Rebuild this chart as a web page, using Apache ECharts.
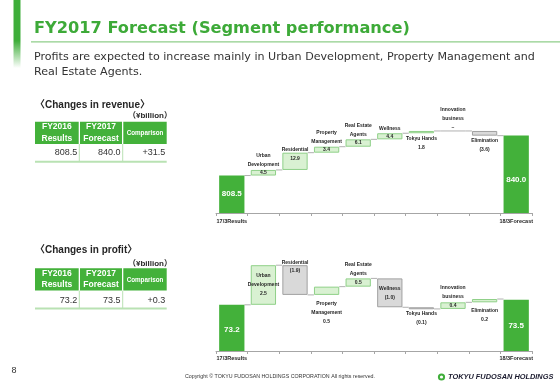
<!DOCTYPE html>
<html><head><meta charset="utf-8">
<script src="https://cdn.jsdelivr.net/npm/echarts@6/dist/echarts.min.js"></script>
<style>html,body{margin:0;padding:0;background:#fff}#c{width:560px;height:388px}</style>
</head><body><div id="c"></div>
<script>
// ---------------- data ----------------
const segmentCategories = ['17/3Results','Urban\nDevelopment','Residential','Property\nManagement','Real Estate\nAgents','Wellness','Tokyu Hands','Innovation\nbusiness','Elimination','18/3Forecast'];
// displayed amounts (¥billion)
const revenueLabels = ['808.5','4.5','12.9','3.4','6.1','4.4','1.8','–','(3.6)','840.0'];
const profitLabels  = ['73.2','2.5','(1.9)','0.5','0.5','(1.0)','(0.1)','0.4','0.2','73.5'];
// running level after each step, as drawn in the picture
const revenueLevels = [808.5, 812.9, 826.5, 831.2, 837.0, 841.8, 843.6, 843.6, 839.9, 840.0];
const profitLevels  = [73.2, 75.6, 73.8, 74.3, 74.8, 73.05, 72.95, 73.35, 73.55, 73.5];
// tables
const tableHeaders = ['FY2016\nResults','FY2017\nForecast','Comparison'];
const revenueTable = ['808.5','840.0','+31.5'];
const profitTable  = ['73.2','73.5','+0.3'];

// ---------------- layout / style ----------------
const GREEN = '#43b13a';
const UP_FILL = '#d9f1d2', UP_STROKE = '#8fd088';
const DN_FILL = '#d9d9d9', DN_STROKE = '#a0a0a0';
const CONN = '#b0b0b0';
const LBL_FONT = 'bold 5px "Liberation Sans", sans-serif';
const TOT_FONT = 'bold 8px "Liberation Sans", sans-serif';
const revPlace = [
  {mode:'total'}, {mode:'above'}, {mode:'aboveTop'}, {mode:'above'}, {mode:'above'},
  {mode:'above'}, {mode:'below', gap:5}, {mode:'aboveAll'}, {mode:'below', gap:5}, {mode:'total', dy:6}
];
const profitPlace = [
  {mode:'total', dy:2}, {mode:'inside'}, {mode:'aboveTop'}, {mode:'below', gap:8.3}, {mode:'above'},
  {mode:'inside'}, {mode:'below', gap:4.5}, {mode:'above', gap:6}, {mode:'below', gap:8.7}, {mode:'total'}
];

function waterfall(idx, cats, levels, labels, axisMin, place) {
  const last = levels.length - 1;
  const data = levels.map((v, i) => [i, (i === 0 || i === last) ? axisMin : levels[i - 1], v]);
  return {
    type: 'custom', xAxisIndex: idx, yAxisIndex: idx, clip: false,
    encode: {x: 0, y: [1, 2]},
    data: data,
    renderItem: function (params, api) {
      const i = api.value(0);
      const from = api.value(1), to = api.value(2);
      const catW = api.size([1, 0])[0];
      const bw = catW * 0.8;
      const pTo = api.coord([i, to]), pFrom = api.coord([i, from]);
      const cx = pTo[0];
      const top = Math.min(pTo[1], pFrom[1]), bot = Math.max(pTo[1], pFrom[1]);
      const total = (i === 0 || i === last);
      const ch = [];
      if (i < last) {
        ch.push({type:'line', shape:{x1: cx + bw/2, y1: pTo[1], x2: cx + catW - bw/2, y2: pTo[1]},
                 style:{stroke: CONN, lineWidth: 1}});
      }
      if (total) {
        ch.push({type:'rect', shape:{x: cx - bw/2, y: top, width: bw, height: bot - top}, style:{fill: GREEN}});
      } else if (from === to) {
        ch.push({type:'line', shape:{x1: cx - bw/2, y1: top, x2: cx + bw/2, y2: top}, style:{stroke: CONN, lineWidth: 1}});
      } else {
        const up = to > from;
        ch.push({type:'rect', shape:{x: cx - bw/2 + 0.5, y: top + 0.5, width: bw - 1, height: Math.max(bot - top - 1, 1)},
                 style:{fill: up ? UP_FILL : DN_FILL, stroke: up ? UP_STROKE : DN_STROKE, lineWidth: 1}});
      }
      const p = place[i];
      const lines = cats[i].split('\n');
      const v = labels[i];
      const txt = (s, y, font, color) => ch.push({type:'text', x: cx, y: y,
        style:{text: s, fill: color || '#262626', font: font || LBL_FONT, align:'center', verticalAlign:'middle'}});
      const L = 9;
      if (p.mode === 'total') {
        txt(v, (top + bot)/2 + (p.dy || 0), TOT_FONT, '#ffffff');
      } else if (p.mode === 'above') {
        const g = p.gap || 5;
        lines.forEach((s, k) => txt(s, top - g - (lines.length - 1 - k) * L));
        txt(v, (top + bot)/2);
      } else if (p.mode === 'aboveAll') {
        const all = lines.concat([v]);
        all.forEach((s, k) => txt(s, top - 3 - (all.length - 1 - k) * L));
      } else if (p.mode === 'aboveTop') {
        lines.forEach((s, k) => txt(s, top - 3 - (lines.length - 1 - k) * L));
        txt(v, top + 5.5);
      } else if (p.mode === 'below') {
        const all = lines.concat([v]);
        all.forEach((s, k) => txt(s, bot + p.gap + k * L));
      } else if (p.mode === 'inside') {
        const all = lines.concat([v]);
        const c = (top + bot)/2;
        all.forEach((s, k) => txt(s, c + (k - (all.length - 1)/2) * L));
      }
      return {type:'group', children: ch};
    }
  };
}

function tableGraphics(headTop, valY, bottomY, values) {
  const cols = [[35,78.7],[80,122],[123.3,166.7]];
  const els = [];
  const hH = 22.3;
  cols.forEach(([x0, x1], k) => {
    els.push({type:'rect', shape:{x:x0, y:headTop, width:x1-x0, height:hH}, style:{fill: GREEN}});
    const h = tableHeaders[k].split('\n');
    const cx = (x0 + x1)/2;
    if (h.length === 2) {
      els.push({type:'text', x: cx, y: headTop + 5.2, style:{text:h[0], fill:'#fff', font:'bold 8.5px "Liberation Sans", sans-serif', align:'center', verticalAlign:'middle'}});
      els.push({type:'text', x: cx, y: headTop + 16.8, style:{text:h[1], fill:'#fff', font:'bold 8.5px "Liberation Sans", sans-serif', align:'center', verticalAlign:'middle'}});
    } else {
      els.push({type:'text', x: cx, y: headTop + hH/2 + 0.5, style:{text:h[0], fill:'#fff', font:'bold 6.3px "Liberation Sans", sans-serif', align:'center', verticalAlign:'middle'}});
    }
    els.push({type:'text', x: x1 - 1.5, y: valY, style:{text: values[k], fill:'#333', font:'9px "Liberation Sans", sans-serif', align:'right', verticalAlign:'middle'}});
  });
  [79.3, 122.7].forEach(x => els.push({type:'rect', shape:{x:x-0.5, y:headTop+hH, width:1, height:bottomY-headTop-hH}, style:{fill:'#b9e2b3'}}));
  els.push({type:'rect', shape:{x:35, y:bottomY-1, width:131.7, height:2}, style:{fill:'#b9e2b3'}});
  return els;
}

const chart = echarts.init(document.getElementById('c'), null, {renderer:'canvas', width:560, height:388});

const revMin = 779, revMax = 851, revScale = 1.27;
const prMin = 70.4, prMax = 76.4, prScale = 16.5;

function xAxisFor(idx, margin) {
  const last = segmentCategories.length - 1;
  return {
    type:'category', gridIndex: idx, data: segmentCategories, boundaryGap: true,
    axisLine:{lineStyle:{color:'#a6a6a6', width:1}},
    axisTick:{show:true, interval:0, length:3, lineStyle:{color:'#a6a6a6'}},
    axisLabel:{interval:0, margin: margin, color:'#262626', fontSize:5.5, fontWeight:'bold', fontFamily:'Liberation Sans',
      formatter:(v, i) => (i === 0 || i === last) ? v : ''},
    splitLine:{show:false}
  };
}

const option = {
  animation: false,
  backgroundColor: '#ffffff',
  grid: [
    {left:216, width:316, top: 213 - (revMax - revMin) * revScale, height: (revMax - revMin) * revScale},
    {left:216, width:316, top: 351 - (prMax - prMin) * prScale, height: (prMax - prMin) * prScale}
  ],
  xAxis: [xAxisFor(0, 5), xAxisFor(1, 4)],
  yAxis: [
    {type:'value', gridIndex:0, min: revMin, max: revMax, show:false},
    {type:'value', gridIndex:1, min: prMin, max: prMax, show:false}
  ],
  series: [
    waterfall(0, segmentCategories, revenueLevels, revenueLabels, revMin, revPlace),
    waterfall(1, segmentCategories, profitLevels, profitLabels, prMin, profitPlace)
  ],
  graphic: [
    {type:'rect', shape:{x:13.5, y:0, width:7, height:68},
     style:{fill: new echarts.graphic.LinearGradient(0,0,0,1,[{offset:0,color:'#3fae3a'},{offset:0.6,color:'#3fae3a'},{offset:1,color:'#ffffff'}])}},
    {type:'text', x:34, y:28.6, style:{text:'FY2017 Forecast (Segment performance)', font:'bold 16.2px "DejaVu Sans", sans-serif', fill:'#3daa38', verticalAlign:'middle'}},
    {type:'rect', shape:{x:31, y:41.2, width:529, height:1.2}, style:{fill:'#8fce8a'}},
    {type:'text', x:34, y:57, style:{text:'Profits are expected to increase mainly in Urban Development, Property Management and', font:'11.1px "DejaVu Sans", sans-serif', fill:'#333', verticalAlign:'middle'}},
    {type:'text', x:34, y:72.5, style:{text:'Real Estate Agents.', font:'11.1px "DejaVu Sans", sans-serif', fill:'#333', verticalAlign:'middle'}},
    {type:'text', x:35, y:105, style:{text:'〈Changes in revenue〉', font:'bold 10px "Liberation Sans", "Noto Sans CJK JP", sans-serif', fill:'#262626', verticalAlign:'middle'}},
    {type:'text', x:172, y:115.7, style:{text:'（¥billion）', font:'bold 8px "Liberation Sans", "Noto Sans CJK JP", sans-serif', fill:'#262626', align:'right', verticalAlign:'middle'}},
    {type:'text', x:35, y:250.7, style:{text:'〈Changes in profit〉', font:'bold 10px "Liberation Sans", "Noto Sans CJK JP", sans-serif', fill:'#262626', verticalAlign:'middle'}},
    {type:'text', x:172, y:263.3, style:{text:'（¥billion）', font:'bold 8px "Liberation Sans", "Noto Sans CJK JP", sans-serif', fill:'#262626', align:'right', verticalAlign:'middle'}},
    ...tableGraphics(121.7, 152.7, 161.7, revenueTable),
    ...tableGraphics(268.3, 300.5, 308.5, profitTable),
    {type:'text', x:14, y:371, style:{text:'8', font:'9px "Liberation Sans", sans-serif', fill:'#333', align:'center', verticalAlign:'middle'}},
    {type:'text', x:280, y:377, style:{text:'Copyright © TOKYU FUDOSAN HOLDINGS CORPORATION All rights reserved.', font:'5.3px "Liberation Sans", sans-serif', fill:'#333', align:'center', verticalAlign:'middle'}},
    {type:'circle', shape:{cx:441.5, cy:377, r:3.6}, style:{fill:'#3fae3a'}},
    {type:'circle', shape:{cx:441.5, cy:377, r:1.6}, style:{fill:'#ffffff'}},
    {type:'text', x:448, y:377, style:{text:'TOKYU FUDOSAN HOLDINGS', font:'italic bold 7.4px "Liberation Sans", sans-serif', fill:'#1a1a2e', verticalAlign:'middle'}}
  ]
};
chart.setOption(option);
</script>
</body></html>
